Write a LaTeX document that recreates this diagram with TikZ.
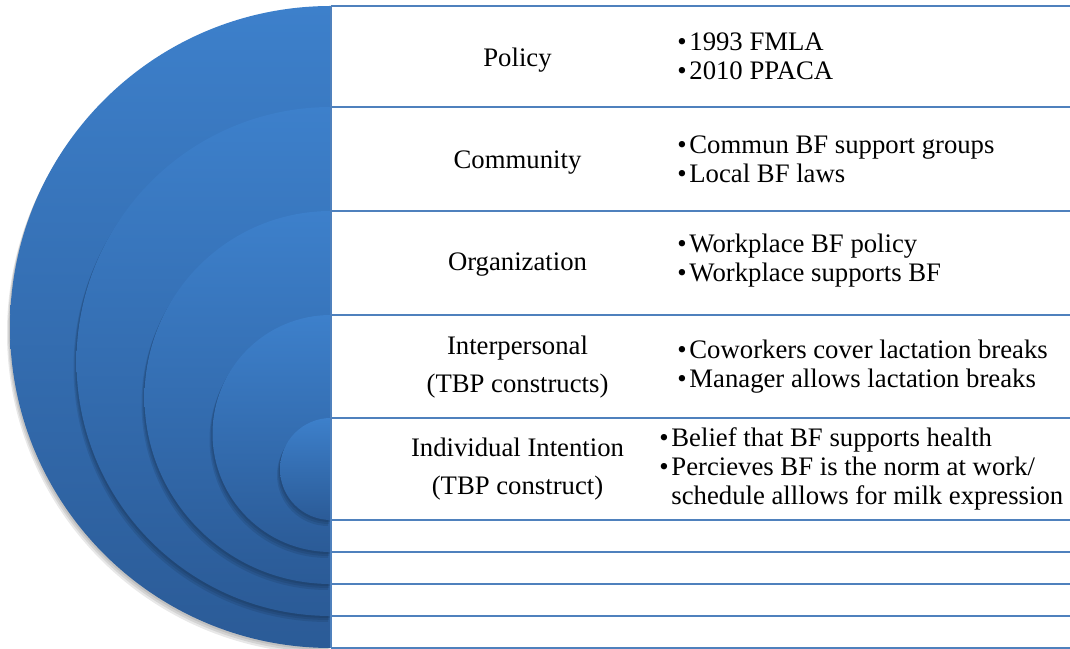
\documentclass[tikz,border=0pt]{standalone}
\usepackage{fontspec}
\setmainfont{Liberation Serif}

\definecolor{discTop}{RGB}{61,128,203}
\definecolor{discBottom}{RGB}{43,91,151}
\definecolor{gridBlue}{RGB}{79,129,189}

\begin{document}
\begin{tikzpicture}[
    x=0.025cm, y=0.025cm,
    gridline/.style={gridBlue, line width=1.1pt},
    level/.style={
        anchor=base,
        inner sep=0pt,
        font=\fontsize{19}{26.7}\selectfont
    },
    points/.style={
        anchor=base west,
        inner sep=0pt,
        font=\fontsize{19}{20.6}\selectfont
    }
]
\useasboundingbox (0,0) rectangle (1070,649);

% Nested half discs, outermost first, each with a soft shadow
\foreach \ytop/\ybot in {643/1, 542/33, 438/65, 334/97, 231/129} {
    \pgfmathsetmacro\r{(\ytop-\ybot)/2}
    \foreach \d in {1,2,3}
        \fill[black, opacity=0.09]
            (331-\d,\ytop-2*\d) arc[start angle=90, end angle=270, radius=\r] -- cycle;
    \shade[top color=discTop, bottom color=discBottom]
        (331,\ytop) arc[start angle=90, end angle=270, radius=\r] -- cycle;
}

% Table rows
\foreach \y in {643,542,438,334,231,129,97,65,33,1}
    \draw[gridline] (331,\y) -- (1070,\y);
\draw[gridline] (331,643) -- (331,1);

% Levels
\node[level] (L1) at (517.5,582.3) {Policy};
\node[level] (L2) at (517.5,480.7) {Community};
\node[level] (L3) at (517.5,378) {Organization};
\node[level] (L4) at (517.5,294)
    {\begin{tabular}[t]{@{}c@{}}Interpersonal\\(TBP constructs)\end{tabular}};
\node[level] (L5) at (517.5,192.3)
    {\begin{tabular}[t]{@{}c@{}}Individual Intention\\(TBP construct)\end{tabular}};

% Factors at each level
\node[points] (P1) at (677,598)
    {\begin{tabular}[t]{@{}l@{\hspace{0.07cm}}l@{}}
        \textbullet & 1993 FMLA\\
        \textbullet & 2010 PPACA
    \end{tabular}};
\node[points] (P2) at (677,495.7)
    {\begin{tabular}[t]{@{}l@{\hspace{0.07cm}}l@{}}
        \textbullet & Commun BF support groups\\
        \textbullet & Local BF laws
    \end{tabular}};
\node[points] (P3) at (677,396)
    {\begin{tabular}[t]{@{}l@{\hspace{0.07cm}}l@{}}
        \textbullet & Workplace BF policy\\
        \textbullet & Workplace supports BF
    \end{tabular}};
\node[points] (P4) at (677,290.7)
    {\begin{tabular}[t]{@{}l@{\hspace{0.07cm}}l@{}}
        \textbullet & Coworkers cover lactation breaks\\
        \textbullet & Manager allows lactation breaks
    \end{tabular}};
\node[points] (P5) at (659,202.3)
    {\begin{tabular}[t]{@{}l@{\hspace{0.07cm}}l@{}}
        \textbullet & Belief that BF supports health\\
        \textbullet & Percieves BF is the norm at work/\\
                    & schedule alllows for milk expression
    \end{tabular}};

\end{tikzpicture}
\end{document}
